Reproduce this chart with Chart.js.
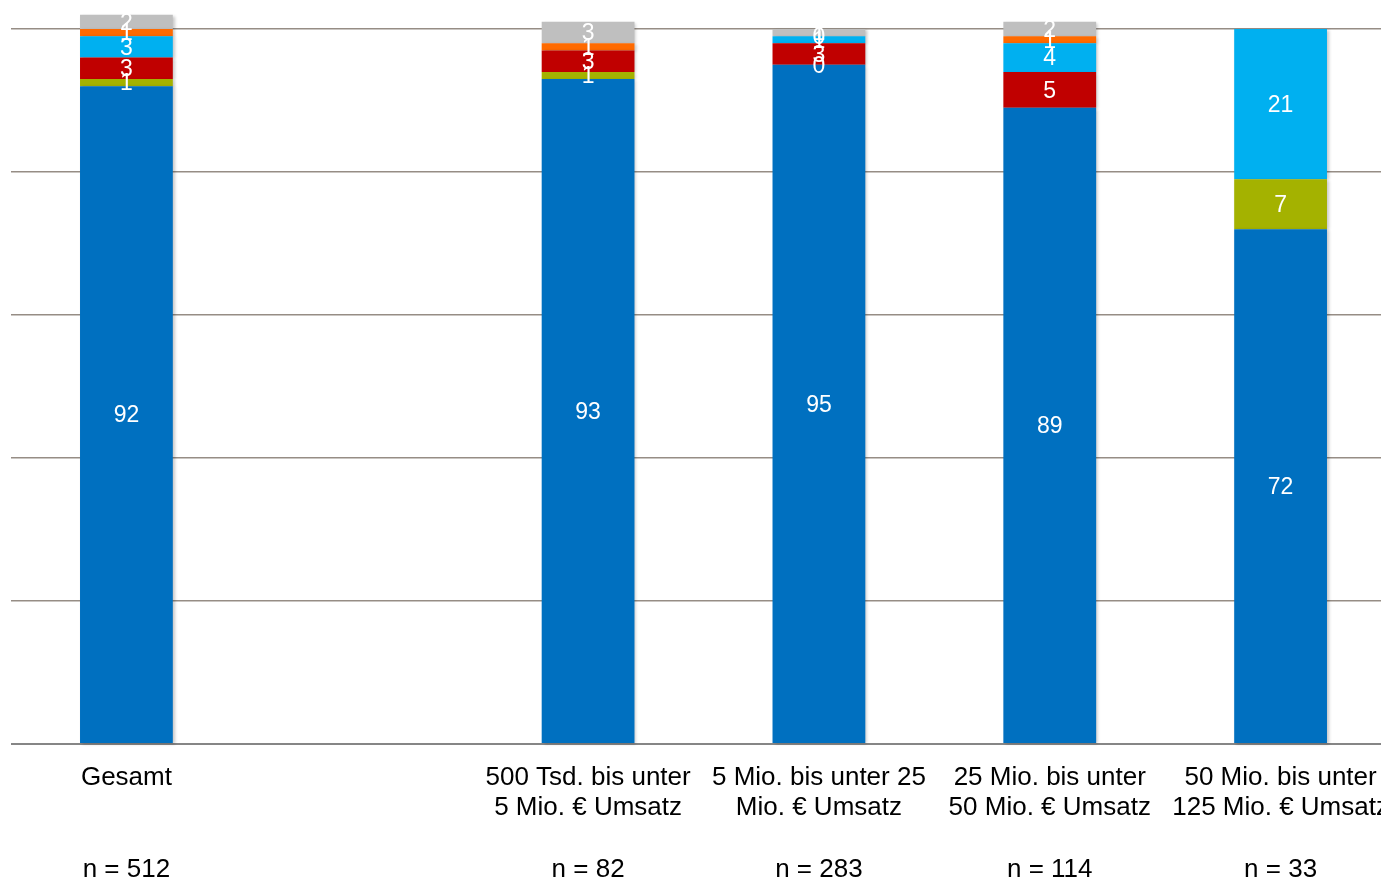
<!DOCTYPE html>
<html lang="de">
<head>
<meta charset="utf-8">
<title>Umsatzklassen</title>
<script src="https://cdn.jsdelivr.net/npm/chart.js@4.4.1/dist/chart.umd.min.js"></script>
<style>
  html, body { margin: 0; padding: 0; background: #ffffff; overflow: hidden; }
  #wrap { width: 1396px; height: 880px; }
</style>
</head>
<body>
<div id="wrap"><canvas id="chart" width="1396" height="880"></canvas></div>
<script>
// Categories (multi-line tick labels; empty slot between "Gesamt" and the size classes)
const categories = [
  ["Gesamt", "", "", "n = 512"],
  ["", "", "", ""],
  ["500 Tsd. bis unter", "5 Mio. € Umsatz", "", "n = 82"],
  ["5 Mio. bis unter 25", "Mio. € Umsatz", "", "n = 283"],
  ["25 Mio. bis unter", "50 Mio. € Umsatz", "", "n = 114"],
  ["50 Mio. bis unter", "125 Mio. € Umsatz", "", "n = 33"]
];

// Series values in percent, stacked from bottom to top
const seriesBlue      = [92, null, 93, 95, 89, 72];
const seriesOlive     = [1,  null, 1,  0,  null, 7];
const seriesRed       = [3,  null, 3,  3,  5,  null];
const seriesLightBlue = [3,  null, null, 1, 4, 21];
const seriesOrange    = [1,  null, 1,  0,  1,  null];
const seriesGray      = [2,  null, 3,  1,  2,  null];

// Value axis ticks (gridlines only, labels hidden)
const yTicks = [0, 20, 40, 60, 80, 100];

const FONT = '"Liberation Sans", Arial, sans-serif';

function series(label, data, color) {
  return { label, data, backgroundColor: color, borderWidth: 0, clip: false };
}

// Soft drop shadow behind the bars
const barShadow = {
  id: 'barShadow',
  beforeDatasetsDraw(chart) {
    const c = chart.ctx;
    c.save();
    c.shadowColor = 'rgba(0,0,0,0.22)';
    c.shadowBlur = 3;
    c.shadowOffsetX = 2;
    c.shadowOffsetY = 1;
  },
  afterDatasetsDraw(chart) {
    chart.ctx.restore();
  }
};

// White value labels centred in each segment
const segmentLabels = {
  id: 'segmentLabels',
  afterDatasetsDraw(chart) {
    const c = chart.ctx;
    c.save();
    c.fillStyle = '#ffffff';
    c.font = '23px ' + FONT;
    c.textAlign = 'center';
    c.textBaseline = 'middle';
    chart.data.datasets.forEach((ds, i) => {
      const meta = chart.getDatasetMeta(i);
      meta.data.forEach((el, j) => {
        const v = ds.data[j];
        if (v === null || v === undefined) return;
        const p = el.getProps(['x', 'y', 'base'], true);
        c.fillText(String(v), p.x, (p.y + p.base) / 2 + 1.5);
      });
    });
    c.restore();
  }
};

new Chart(document.getElementById('chart'), {
  type: 'bar',
  data: {
    labels: categories,
    datasets: [
      series('Reihe 1', seriesBlue, '#0070C0'),
      series('Reihe 2', seriesOlive, '#A4B200'),
      series('Reihe 3', seriesRed, '#C00000'),
      series('Reihe 4', seriesLightBlue, '#00B0F0'),
      series('Reihe 5', seriesOrange, '#FF6A00'),
      series('Reihe 6', seriesGray, '#BFBFBF')
    ]
  },
  options: {
    responsive: false,
    animation: false,
    devicePixelRatio: 1,
    layout: { padding: { left: 11, right: 0, top: 29, bottom: 0 } },
    datasets: { bar: { barPercentage: 0.402, categoryPercentage: 1.0 } },
    plugins: {
      legend: { display: false },
      tooltip: { enabled: false }
    },
    scales: {
      x: {
        stacked: true,
        grid: { display: false, drawTicks: false },
        border: { display: false },
        ticks: {
          color: '#000000',
          font: { family: FONT, size: 26, lineHeight: 1.18 },
          padding: 18,
          autoSkip: false,
          maxRotation: 0,
          minRotation: 0
        },
        afterFit(scale) {
          scale.height = 136;
          scale.paddingLeft = 0;
          scale.paddingRight = 0;
        }
      },
      y: {
        stacked: true,
        min: yTicks[0],
        max: yTicks[yTicks.length - 1],
        afterBuildTicks(scale) { scale.ticks = yTicks.map(v => ({ value: v })); },
        ticks: { display: false },
        border: { display: false },
        grid: {
          drawTicks: false,
          color: ctx => (ctx.tick && ctx.tick.value === 0 ? '#868686' : '#968D85'),
          lineWidth: ctx => (ctx.tick && ctx.tick.value === 0 ? 2 : 1.5)
        },
        afterFit(scale) { scale.width = 0; }
      }
    }
  },
  plugins: [barShadow, segmentLabels]
});
</script>
</body>
</html>
